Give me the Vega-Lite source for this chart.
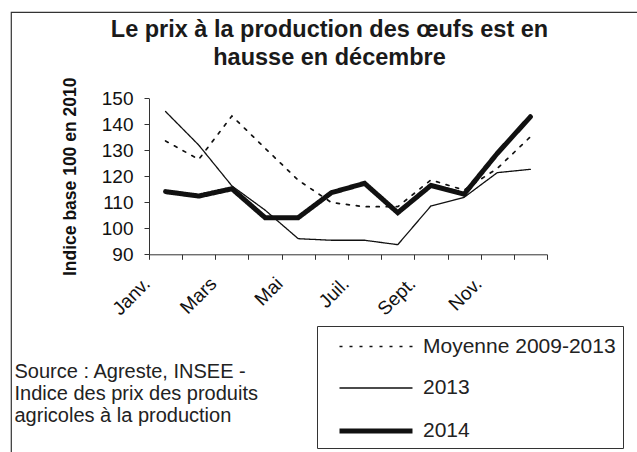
{
  "$schema": "https://vega.github.io/schema/vega-lite/v6.json",
  "autosize": "none",
  "width": 627,
  "height": 441,
  "padding": {"left": 11, "top": 12, "right": -1, "bottom": -1},
  "background": "white",
  "title": {
    "text": ["Le prix à la production des œufs est en", "hausse en décembre"],
    "anchor": "middle",
    "frame": "group",
    "baseline": "top",
    "offset": -57,
    "dx": 5,
    "fontSize": 23.5,
    "font": "Liberation Sans",
    "fontWeight": "bold",
    "color": "#1a1a1a",
    "lineHeight": 28
  },
  "config": {
    "view": {"stroke": "#333", "strokeWidth": 1.2},
    "font": "Liberation Sans"
  },
  "data": {
    "values": [
      {"mois": "Janv.", "serie": "Moyenne 2009-2013", "indice": 133.6},
      {"mois": "Févr.", "serie": "Moyenne 2009-2013", "indice": 126.5},
      {"mois": "Mars", "serie": "Moyenne 2009-2013", "indice": 143.2},
      {"mois": "Avr.", "serie": "Moyenne 2009-2013", "indice": 130.8},
      {"mois": "Mai", "serie": "Moyenne 2009-2013", "indice": 118.5},
      {"mois": "Juin", "serie": "Moyenne 2009-2013", "indice": 109.9},
      {"mois": "Juil.", "serie": "Moyenne 2009-2013", "indice": 108.3},
      {"mois": "Août", "serie": "Moyenne 2009-2013", "indice": 108.3},
      {"mois": "Sept.", "serie": "Moyenne 2009-2013", "indice": 118.6},
      {"mois": "Oct.", "serie": "Moyenne 2009-2013", "indice": 114.7},
      {"mois": "Nov.", "serie": "Moyenne 2009-2013", "indice": 123.0},
      {"mois": "Déc.", "serie": "Moyenne 2009-2013", "indice": 135.2},
      {"mois": "Janv.", "serie": "2013", "indice": 144.9},
      {"mois": "Févr.", "serie": "2013", "indice": 132.0},
      {"mois": "Mars", "serie": "2013", "indice": 116.3},
      {"mois": "Avr.", "serie": "2013", "indice": 107.0},
      {"mois": "Mai", "serie": "2013", "indice": 96.0},
      {"mois": "Juin", "serie": "2013", "indice": 95.4},
      {"mois": "Juil.", "serie": "2013", "indice": 95.4},
      {"mois": "Août", "serie": "2013", "indice": 93.7},
      {"mois": "Sept.", "serie": "2013", "indice": 108.6},
      {"mois": "Oct.", "serie": "2013", "indice": 111.9},
      {"mois": "Nov.", "serie": "2013", "indice": 121.4},
      {"mois": "Déc.", "serie": "2013", "indice": 122.7},
      {"mois": "Janv.", "serie": "2014", "indice": 114.1},
      {"mois": "Févr.", "serie": "2014", "indice": 112.4},
      {"mois": "Mars", "serie": "2014", "indice": 115.2},
      {"mois": "Avr.", "serie": "2014", "indice": 104.1},
      {"mois": "Mai", "serie": "2014", "indice": 104.1},
      {"mois": "Juin", "serie": "2014", "indice": 113.7},
      {"mois": "Juil.", "serie": "2014", "indice": 117.3},
      {"mois": "Août", "serie": "2014", "indice": 106.0},
      {"mois": "Sept.", "serie": "2014", "indice": 116.5},
      {"mois": "Oct.", "serie": "2014", "indice": 113.1},
      {"mois": "Nov.", "serie": "2014", "indice": 128.8},
      {"mois": "Déc.", "serie": "2014", "indice": 142.9}
    ]
  },
  "mark": {"type": "line", "strokeCap": "round", "strokeJoin": "miter", "color": "#111"},
  "encoding": {
    "x": {
      "field": "mois",
      "type": "nominal",
      "sort": ["Janv.", "Févr.", "Mars", "Avr.", "Mai", "Juin", "Juil.", "Août", "Sept.", "Oct.", "Nov.", "Déc."],
      "scale": {"type": "band", "range": [138, 536], "paddingInner": 0, "paddingOuter": 0},
      "axis": {
        "offset": -198.7,
        "grid": false,
        "tickBand": "extent",
        "tickSize": 5,
        "tickColor": "#333",
        "domainColor": "#333",
        "labelAngle": -45,
        "labelAlign": "right",
        "labelBaseline": "middle",
        "labelOffset": -19,
        "labelPadding": 21,
        "labelFontSize": 19,
        "labelColor": "#111",
        "labelOverlap": false,
        "labelExpr": "indexof(['Janv.','Mars','Mai','Juil.','Sept.','Nov.'], datum.value) >= 0 ? datum.value : ''",
        "title": ["Source : Agreste, INSEE -", "Indice des prix des produits", "agricoles à la production"],
        "titleX": 3,
        "titleY": 123,
        "titleAlign": "left",
        "titleAnchor": "start",
        "titleBaseline": "alphabetic",
        "titleFontSize": 20,
        "titleFontWeight": "normal",
        "titleLineHeight": 22,
        "titleColor": "#222"
      }
    },
    "y": {
      "field": "indice",
      "type": "quantitative",
      "scale": {"domain": [90, 150], "range": [242.3, 86.3], "nice": false, "zero": false},
      "axis": {
        "offset": -138,
        "values": [90, 100, 110, 120, 130, 140, 150],
        "grid": false,
        "tickSize": 5,
        "tickColor": "#333",
        "domainColor": "#333",
        "labelFontSize": 19,
        "labelPadding": 11,
        "labelColor": "#111",
        "title": "Indice base 100 en 2010",
        "titleFontSize": 17.5,
        "titleFontWeight": "bold",
        "titleColor": "#111",
        "titlePadding": 22
      }
    },
    "strokeDash": {
      "field": "serie",
      "type": "ordinal",
      "scale": {"type": "ordinal", "domain": ["Moyenne 2009-2013", "2013", "2014"], "range": [[3, 7], [1, 0], [1, 0]]},
      "legend": {
        "orient": "none", "legendX": 306, "legendY": 314, "title": null,
        "symbolType": "M-3,0L3,0", "symbolSize": 592, "symbolStrokeColor": "#111",
        "labelFontSize": 21, "labelColor": "#222", "labelOffset": 32, "labelLimit": 400,
        "rowPadding": 18, "padding": 7, "symbolOffset": 37,
        "strokeColor": "#333", "fillColor": "white"
      }
    },
    "strokeWidth": {
      "field": "serie",
      "type": "ordinal",
      "scale": {"type": "ordinal", "domain": ["Moyenne 2009-2013", "2013", "2014"], "range": [1.7, 1.3, 5]},
      "legend": {
        "orient": "none", "legendX": 306, "legendY": 314, "title": null,
        "symbolType": "M-3,0L3,0", "symbolSize": 592, "symbolStrokeColor": "#111",
        "labelFontSize": 21, "labelColor": "#222", "labelOffset": 32, "labelLimit": 400,
        "rowPadding": 18, "padding": 7, "symbolOffset": 37,
        "strokeColor": "#333", "fillColor": "white"
      }
    }
  }
}
